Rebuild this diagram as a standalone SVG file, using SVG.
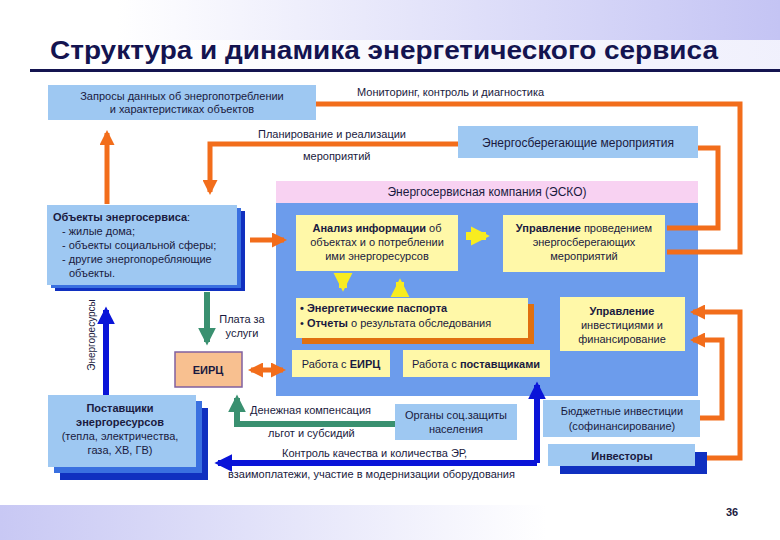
<svg xmlns="http://www.w3.org/2000/svg" width="780" height="540" viewBox="0 0 780 540">
<defs>
<linearGradient id="gt" x1="0" y1="0" x2="1" y2="0"><stop offset="0.15" stop-color="#ffffff"/><stop offset="1" stop-color="#c4c4f4"/></linearGradient>
<linearGradient id="gb" x1="0" y1="0" x2="1" y2="0"><stop offset="0" stop-color="#c8c8f4"/><stop offset="0.7" stop-color="#ffffff"/></linearGradient>
<marker id="ao" viewBox="0 0 10 10" refX="8" refY="5" markerWidth="3" markerHeight="3" orient="auto-start-reverse"><path d="M0,0L10,5L0,10z" fill="#f26d1b"/></marker>
<marker id="ab" viewBox="0 0 10 10" refX="8" refY="5" markerWidth="3" markerHeight="3" orient="auto"><path d="M0,0L10,5L0,10z" fill="#0a14d8"/></marker>
<marker id="ag" viewBox="0 0 10 10" refX="8" refY="5" markerWidth="3" markerHeight="3" orient="auto"><path d="M0,0L10,5L0,10z" fill="#3a9070"/></marker>
<marker id="ay" viewBox="0 0 10 10" refX="8" refY="5" markerWidth="2.4" markerHeight="2.4" orient="auto"><path d="M0,0L10,5L0,10z" fill="#f8ec20"/></marker>
</defs>
<style>
text{font-family:"Liberation Sans",Arial,sans-serif;fill:#1a1a40;font-size:11px}
.c{text-anchor:middle}
.b{font-weight:bold}
.lb{fill:#9ec8f2}
.yl{fill:#fff8a8}
.sh{fill:#1030c0}
.sh2{fill:#3a70e0}
.o{fill:none;stroke:#f26d1b;stroke-width:5}
.bl{fill:none;stroke:#0a14d8;stroke-width:6}
.g{fill:none;stroke:#3a9070;stroke-width:6}
.y{fill:none;stroke:#f8ec20;stroke-width:8}
</style>
<rect width="780" height="40" fill="url(#gt)"/>
<rect y="40" width="780" height="30" fill="url(#gt)" opacity="0.25"/>
<rect y="505" width="780" height="35" fill="url(#gb)"/>
<text x="50" y="59" class="b" style="font-size:25px;fill:#141450" textLength="668" lengthAdjust="spacingAndGlyphs">Структура и динамика энергетического сервиса</text>
<rect x="30" y="69" width="750" height="3" fill="#141450"/>

<g id="esco">
<rect x="276" y="181" width="422" height="22" fill="#f8d2f2"/>
<text x="487" y="196" class="c" style="font-size:12px">Энергосервисная компания (ЭСКО)</text>
<rect x="276" y="203" width="422" height="193" fill="#6c9cec"/>
</g>

<g id="connectors">
<polyline class="o" points="316,104 740,104 740,252 667,252"/>
<polyline class="o" points="460,144 210,144 210,192" marker-end="url(#ao)"/>
<polyline class="o" points="698,148 718,148 718,228 667,228"/>
<line class="o" x1="107" y1="204" x2="107" y2="133" marker-end="url(#ao)"/>
<line class="o" x1="250" y1="240" x2="284" y2="240" marker-end="url(#ao)"/>
<line class="o" x1="251" y1="370" x2="283" y2="370" marker-start="url(#ao)" marker-end="url(#ao)"/>
<polyline class="o" points="700,418 722,418 722,340 693,340" marker-end="url(#ao)"/>
<polyline class="o" points="698,458 740,458 740,312 693,312" marker-end="url(#ao)"/>
<line class="bl" x1="106" y1="396" x2="106" y2="310" marker-end="url(#ab)"/>
<polyline class="bl" points="537,463 537,385" marker-end="url(#ab)"/>
<polyline class="bl" points="537,463 218,463" marker-end="url(#ab)"/>
<line class="g" x1="207" y1="292" x2="207" y2="342" marker-end="url(#ag)"/>
<polyline class="g" points="395,424 237,424 237,398" marker-end="url(#ag)"/>
<line class="y" x1="466" y1="236" x2="486" y2="236" marker-end="url(#ay)"/>
<line class="y" x1="343" y1="273" x2="343" y2="288" marker-end="url(#ay)"/>
<line class="y" x1="400" y1="297" x2="400" y2="282" marker-end="url(#ay)"/>
</g>

<g id="labels">
<text x="357" y="96">Мониторинг, контроль и диагностика</text>
<text x="258" y="138">Планирование и реализации</text>
<text x="303" y="160">мероприятий</text>
<text x="242" y="323" class="c">Плата за</text>
<text x="242" y="337" class="c">услуги</text>
<text x="250" y="414">Денежная компенсация</text>
<text x="268" y="437">льгот и субсидий</text>
<text x="282" y="457">Контроль качества и количества ЭР,</text>
<text x="228" y="478">взаимоплатежи, участие в модернизации оборудования</text>
<text transform="translate(95,335) rotate(-90)" class="c" style="font-size:10px">Энергоресурсы</text>
</g>

<g id="zaprosy">
<rect x="48" y="85" width="268" height="35" class="lb"/>
<text x="182" y="100" class="c">Запросы данных об энергопотреблении</text>
<text x="182" y="113" class="c">и характеристиках объектов</text>
</g>
<g id="energosber">
<rect x="458" y="126" width="240" height="32" class="lb"/>
<text x="578" y="147" class="c" style="font-size:12px">Энергосберегающие мероприятия</text>
</g>
<g id="obekty">
<rect x="55" y="211" width="190" height="80" class="sh"/>
<rect x="51" y="208" width="190" height="80" class="sh2"/>
<rect x="47" y="205" width="190" height="80" class="lb"/>
<text x="53" y="221"><tspan class="b">Объекты энергосервиса</tspan>:</text>
<text x="62" y="235">- жилые дома;</text>
<text x="62" y="249">- объекты социальной сферы;</text>
<text x="62" y="263">- другие энергопоребляющие</text>
<text x="69" y="277">объекты.</text>
</g>
<g id="analiz">
<rect x="296" y="215" width="162" height="56" class="yl"/>
<text x="377" y="232" class="c"><tspan class="b">Анализ информации</tspan> об</text>
<text x="377" y="246" class="c">объектах и о потреблении</text>
<text x="377" y="260" class="c">ими энергоресурсов</text>
</g>
<g id="upravlenie">
<rect x="503" y="215" width="162" height="57" class="yl"/>
<text x="584" y="232" class="c"><tspan class="b">Управление</tspan> проведением</text>
<text x="584" y="246" class="c">энергосберегающих</text>
<text x="584" y="260" class="c">мероприятий</text>
</g>
<g id="pasporta">
<rect x="302" y="304" width="232" height="40" fill="#e07010"/>
<rect x="296" y="298" width="232" height="40" class="yl"/>
<text x="300" y="312"><tspan class="b">• Энергетические паспорта</tspan></text>
<text x="300" y="327">• <tspan class="b">Отчеты</tspan> о результата обследования</text>
</g>
<g id="rabota-eirc">
<rect x="292" y="350" width="98" height="27" class="yl"/>
<text x="341" y="368" class="c">Работа с <tspan class="b">ЕИРЦ</tspan></text>
</g>
<g id="rabota-post">
<rect x="403" y="350" width="147" height="27" class="yl"/>
<text x="476" y="368" class="c">Работа с <tspan class="b">поставщиками</tspan></text>
</g>
<g id="upr-invest">
<rect x="560" y="297" width="125" height="54" class="yl"/>
<text x="622" y="315" class="c b">Управление</text>
<text x="622" y="329" class="c">инвестициями и</text>
<text x="622" y="343" class="c">финансирование</text>
</g>
<g id="eirc">
<rect x="175" y="352" width="67" height="35" fill="#f8c090" stroke="#8060a0" stroke-width="1.5"/>
<text x="208" y="374" class="c b">ЕИРЦ</text>
</g>
<g id="postavshiki">
<rect x="60" y="408" width="148" height="72" class="sh"/>
<rect x="54" y="401" width="148" height="72" class="sh2"/>
<rect x="48" y="395" width="148" height="72" class="lb"/>
<text x="120" y="412" class="c b">Поставщики</text>
<text x="120" y="426" class="c b">энергоресурсов</text>
<text x="120" y="440" class="c">(тепла, электричества,</text>
<text x="120" y="454" class="c">газа, ХВ, ГВ)</text>
</g>
<g id="organy">
<rect x="395" y="404" width="122" height="36" class="lb"/>
<text x="456" y="419" class="c">Органы соц.защиты</text>
<text x="456" y="433" class="c">населения</text>
</g>
<g id="budget">
<rect x="543" y="400" width="157" height="37" class="lb"/>
<text x="622" y="415" class="c">Бюджетные инвестиции</text>
<text x="622" y="430" class="c">(софинансирование)</text>
</g>
<g id="investory">
<rect x="560" y="452" width="147" height="22" class="sh"/>
<rect x="548" y="444" width="147" height="22" class="lb"/>
<text x="622" y="460" class="c b">Инвесторы</text>
</g>
<text x="726" y="516" class="b">36</text>
</svg>
